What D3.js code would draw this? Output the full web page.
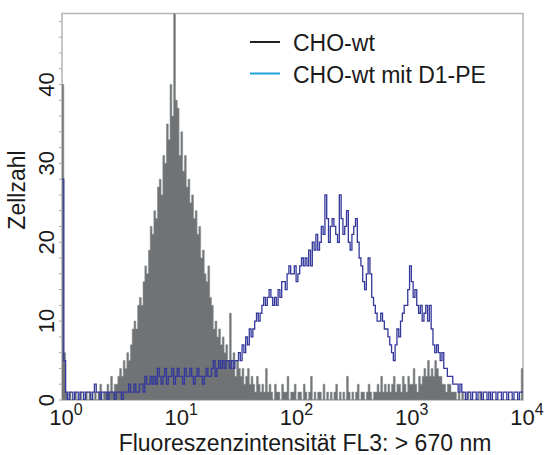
<!DOCTYPE html>
<html>
<head>
<meta charset="utf-8">
<script src="https://cdn.jsdelivr.net/npm/d3@7"></script>
<style>
  body { margin: 0; background: #fff; }
  text { font-family: "Liberation Sans", Arial, Helvetica, sans-serif; fill: #1a1a1a; }
</style>
</head>
<body>
<svg id="chart" width="545" height="455"></svg>
<script>
// Log-channel histogram: 64 channels per decade over 10^0 .. 10^4
const channelsPerDecade = 64;
const decadeRange = [1, 10000];

// Cell counts per channel, unstained wild type
const countsWt = [
  40,6,1,0,1,0,0,1,0,0,
  1,0,0,1,0,1,0,0,1,0,
  1,2,0,1,1,2,1,3,1,2,
  2,3,4,3,5,4,6,5,7,9,
  10,9,12,13,12,15,17,16,19,22,
  21,24,23,27,28,26,31,30,35,33,
  40,36,52,38,37,31,34,29,31,27,
  28,25,26,23,24,21,22,18,19,16,
  15,17,13,12,9,10,8,9,7,8,
  6,7,5,11,4,6,3,5,4,3,
  4,2,3,4,2,3,2,1,3,2,
  1,2,1,4,1,2,1,0,2,1,
  1,0,2,1,1,3,0,1,1,2,
  0,1,1,0,2,1,0,1,3,0,
  1,0,1,1,0,2,0,1,0,1,
  0,1,2,0,1,0,1,0,3,1,
  0,1,0,1,2,0,1,1,0,1,
  2,1,0,1,1,2,1,3,1,2,
  1,2,1,2,3,1,2,2,1,3,
  2,1,3,2,2,4,2,1,3,2,
  3,4,3,5,3,4,3,5,4,3,
  3,2,2,1,2,2,1,1,1,0,
  1,0,1,0,0,1,0,0,0,0,
  0,0,1,0,0,0,0,0,0,0,
  0,0,0,0,0,0,0,0,0,0,
  0,0,0,0,0,4
];

// Cell counts per channel, wild type stained with D1-PE
const countsD1 = [
  28,5,1,0,1,1,0,1,1,0,
  1,1,0,1,1,1,0,1,2,1,
  1,0,1,1,1,0,1,1,1,0,
  1,1,1,0,1,1,1,2,1,1,
  2,1,1,2,2,1,3,2,2,3,
  2,3,2,4,3,2,3,4,2,3,
  3,4,2,3,4,3,3,2,4,3,
  3,4,3,2,3,4,3,3,2,3,
  4,3,3,4,5,3,4,5,4,5,
  4,5,5,4,5,4,5,5,6,5,
  7,6,8,7,9,8,9,10,11,10,
  11,12,13,12,13,14,13,12,13,12,
  14,13,15,15,14,16,17,16,16,17,
  15,16,17,18,17,18,17,19,17,20,
  19,21,19,20,22,21,26,23,20,22,
  23,22,21,20,26,23,21,22,24,20,
  19,21,22,23,20,18,17,15,14,16,
  18,16,13,12,11,10,10,11,10,9,
  9,8,7,6,5,7,9,8,10,11,
  12,12,14,17,15,13,14,12,11,12,
  10,11,12,10,12,9,7,6,7,6,
  5,6,4,4,3,3,3,2,2,2,
  1,2,1,1,0,1,1,0,1,1,
  0,1,1,0,1,1,0,1,0,1,
  1,0,1,1,0,1,1,0,1,1,
  0,1,1,0,1,1
];

const seriesNames = ["CHO-wt", "CHO-wt mit D1-PE"];
const legendColors = ["#222222", "#1ea3dc"];
const yTickValues = [0, 10, 20, 30, 40];
const yMinorStep = 2;
const xTickExponents = [0, 1, 2, 3, 4];
const yMax = 49;
const xTitle = "Fluoreszenzintensität FL3: > 670 nm";
const yTitle = "Zellzahl";

const svg = d3.select("#chart");
const plot = { left: 62, right: 523, top: 13.5, bottom: 400 };

const x = d3.scaleLog().domain(decadeRange).range([plot.left, plot.right]);
const y = d3.scaleLinear().domain([0, yMax]).range([plot.bottom, plot.top]);

const chLo = i => Math.pow(10, i / channelsPerDecade);
const chHi = i => Math.pow(10, (i + 1) / channelsPerDecade);
const toSteps = counts => {
  const pts = counts.map((v, i) => [chLo(i), v]);
  pts.push([chHi(counts.length - 1), counts[counts.length - 1]]);
  return pts;
};

svg.append("clipPath").attr("id", "plotClip")
  .append("rect")
  .attr("x", plot.left).attr("y", plot.top)
  .attr("width", plot.right - plot.left).attr("height", plot.bottom - plot.top);

// frame
svg.append("rect")
  .attr("x", plot.left).attr("y", plot.top)
  .attr("width", plot.right - plot.left).attr("height", plot.bottom - plot.top)
  .attr("fill", "none").attr("stroke", "#b4b4b4").attr("stroke-width", 1.5);

const data = svg.append("g").attr("clip-path", "url(#plotClip)");

// unstained: filled grey histogram
data.append("path")
  .datum(toSteps(countsWt))
  .attr("fill", "#6f7375")
  .attr("stroke", "#8a8d8f")
  .attr("stroke-width", 0.6)
  .attr("d", d3.area()
    .x(d => x(d[0]))
    .y0(y(0))
    .y1(d => y(d[1]))
    .curve(d3.curveStepAfter));

// stained: blue step outline
data.append("path")
  .datum(toSteps(countsD1))
  .attr("fill", "none")
  .attr("stroke", "#33389a")
  .attr("stroke-width", 1.3)
  .attr("d", d3.line().x(d => x(d[0])).y(d => y(d[1])).curve(d3.curveStepAfter));

// y axis: minor + major ticks on the left edge
const yAxis = svg.append("g");
yAxis.selectAll("line.minor")
  .data(d3.range(0, yMax + 0.01, yMinorStep))
  .join("line")
  .attr("x1", plot.left - 3).attr("x2", plot.left)
  .attr("y1", d => y(d)).attr("y2", d => y(d))
  .attr("stroke", "#a8a8a8").attr("stroke-width", 1);

yAxis.selectAll("text")
  .data(yTickValues)
  .join("text")
  .attr("transform", d => `translate(54,${y(d)}) rotate(-90)`)
  .attr("text-anchor", "middle")
  .style("font-size", "22px")
  .text(d => d);

// x axis: powers of ten
const xLabels = svg.append("g").selectAll("text")
  .data(xTickExponents)
  .join("text")
  .attr("x", d => x(Math.pow(10, d)) + 4)
  .attr("y", 425)
  .attr("text-anchor", "middle")
  .style("font-size", "22px");
xLabels.append("tspan").text("10");
xLabels.append("tspan")
  .attr("dy", -10)
  .style("font-size", "16px")
  .text(d => d);

// axis titles
svg.append("text")
  .attr("x", 305).attr("y", 451)
  .attr("text-anchor", "middle")
  .style("font-size", "23px")
  .text(xTitle);

svg.append("text")
  .attr("transform", "translate(25,190) rotate(-90)")
  .attr("text-anchor", "middle")
  .style("font-size", "23px")
  .text(yTitle);

// legend
const legend = svg.append("g");
seriesNames.forEach((name, i) => {
  const ly = 42 + i * 31.5;
  legend.append("line")
    .attr("x1", 250).attr("x2", 280)
    .attr("y1", ly).attr("y2", ly)
    .attr("stroke", legendColors[i]).attr("stroke-width", 2);
  legend.append("text")
    .attr("x", 293).attr("y", ly + 9)
    .style("font-size", "23px")
    .text(name);
});
</script>
</body>
</html>
